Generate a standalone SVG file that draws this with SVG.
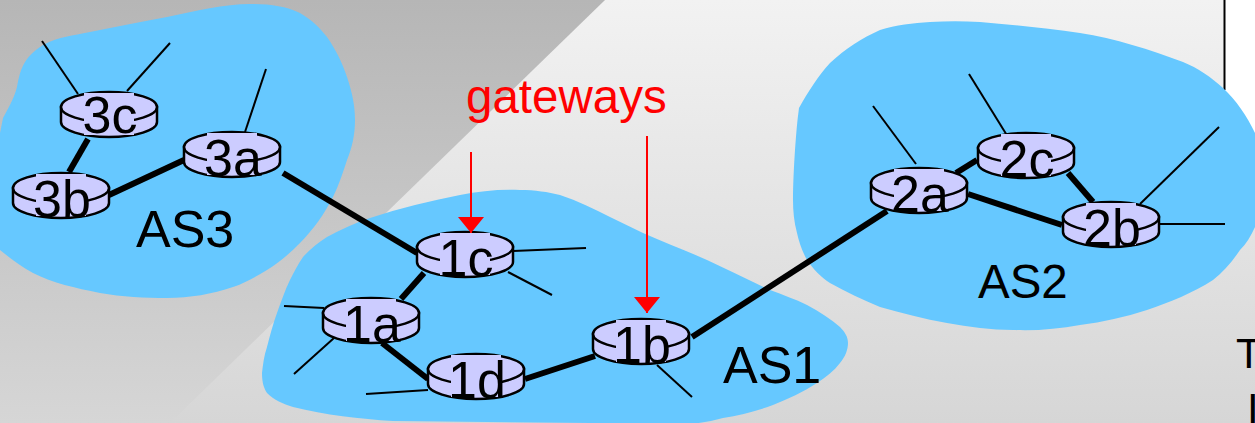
<svg xmlns="http://www.w3.org/2000/svg" width="1255" height="423" viewBox="0 0 1255 423">
<style>
text{font-family:"Liberation Sans",Arial,sans-serif;font-size:52px;fill:#000}
.as{fill:#66c8ff;stroke:none}
.thick{stroke:#000;stroke-width:6;fill:none}
.thin{stroke:#000;stroke-width:2;fill:none}
.red{stroke:#f00;stroke-width:2;fill:none}
.c{text-anchor:middle}
</style>
<defs>
<linearGradient id="bgL" x1="0" y1="0" x2="0" y2="1"><stop offset="0" stop-color="#f2f2f2"/><stop offset="1" stop-color="#d6d6d6"/></linearGradient>
<linearGradient id="bgD" x1="0" y1="0" x2="0" y2="1"><stop offset="0" stop-color="#b6b6b6"/><stop offset="1" stop-color="#d6d6d6"/></linearGradient>
<marker id="arr" markerUnits="userSpaceOnUse" markerWidth="16" markerHeight="26" refX="16" refY="13" orient="auto" viewBox="0 0 16 26"><path d="M0 0L16 13L0 26Z" fill="#f00"/></marker>
<g id="router">
<path d="M-48 0V15A48 15 0 0 0 48 15V0Z" fill="#ccccff" stroke="#000" stroke-width="2.500"/>
<ellipse cx="0" cy="0" rx="48" ry="15" fill="#ccccff" stroke="#000" stroke-width="2.500"/>
<rect x="-25" y="-14" width="50" height="42" fill="#ccccff"/>
</g>
</defs>
<g id="background">
<rect width="1255" height="423" fill="url(#bgL)"/>
<path d="M0 0H605L170 423H0Z" fill="url(#bgD)"/>
<path d="M1225 0H1255V140H1225Z" fill="#fff"/>
<path d="M1224.500 0V90" stroke="#000" stroke-width="2"/>
</g>
<g id="as-regions">
<path id="as3" class="as" d="M0 133L3 118C10 105 14 98 17 87C20 72 22 58 43 45C60 36 72 36 90 32C115 27 140 22 167 17C195 11 225 4 250 4C270 4 285 6 300 13C312 20 320 28 327 37C336 50 342 62 347 77C352 92 355 105 355 120C355 135 352 148 347 160C343 172 339 185 333 197C325 213 313 230 300 243C290 253 280 262 267 270C257 276 245 283 233 287C212 294 190 298 167 298C145 298 122 297 100 293C75 288 53 283 33 273C20 266 10 258 0 250Z"/>
<path id="as1" class="as" d="M262 373C263 364 264 356 267 347C270 335 273 324 277 313C281 302 285 290 290 280C294 272 298 264 303 257C310 249 318 243 327 237C340 230 355 223 370 218C400 208 430 201 460 195C480 191 500 189 520 190C535 190 548 192 560 195C578 201 594 209 610 217C621 222 632 228 643 233C665 243 685 250 707 260C728 270 749 280 770 290C783 295 795 299 807 305C820 312 831 319 840 327C845 332 848 337 848 343C848 350 845 357 840 363C834 371 826 377 817 383C803 392 788 399 773 405C757 411 740 415 723 418C712 421 701 423 690 424L393 421C360 419 325 415 293 407C283 404 274 400 267 393C263 387 262 380 262 373Z"/>
<path id="as2" class="as" d="M799 108C808 92 818 76 830 63C845 49 862 38 880 30C896 25 913 23 930 22C947 21 963 21 980 22C1013 25 1047 28 1080 33C1115 38 1150 50 1183 62C1198 68 1211 77 1223 88C1236 100 1247 116 1255 133L1262 140V220C1260 222 1257 224 1255 227C1251 236 1246 244 1240 250C1232 262 1223 272 1213 280C1193 293 1170 302 1147 310C1125 317 1103 322 1080 325C1058 329 1036 331 1013 330C991 330 969 327 947 323C924 319 902 313 880 307C863 300 846 292 830 283C821 277 813 269 807 260C802 251 799 242 797 233C794 222 793 211 793 200C793 185 794 165 795 150C796 136 797 122 799 108Z"/>
</g>
<g id="connectors">
<path class="thick" d="M88 139L69 172"/>
<path class="thick" d="M109 195L184 160"/>
<path class="thick" d="M283 173L417 253"/>
<path class="thick" d="M424 273L401 299"/>
<path class="thick" d="M382 343L428 379"/>
<path class="thick" d="M525 379L595 356"/>
<path class="thick" d="M692 337L887 211"/>
<path class="thick" d="M956 173L977 160"/>
<path class="thick" d="M968 194L1062 225"/>
<path class="thick" d="M1068 173L1093 202"/>
<path class="thin" d="M42 41L78 94"/>
<path class="thin" d="M170 43L127 91"/>
<path class="thin" d="M266 69L245 132"/>
<path class="thin" d="M513 251L586 248"/>
<path class="thin" d="M508 272L552 295"/>
<path class="thin" d="M284 306L324 308"/>
<path class="thin" d="M334 338L294 374"/>
<path class="thin" d="M366 394L428 390"/>
<path class="thin" d="M657 365L692 397"/>
<path class="thin" d="M873 106L916 164"/>
<path class="thin" d="M969 74L1008 137"/>
<path class="thin" d="M1219 127L1140 204"/>
<path class="thin" d="M1160 224H1225"/>
</g>
<g id="r3c"><use href="#router" x="109" y="107"/><text class="c" x="110" y="133">3c</text></g>
<g id="r3a"><use href="#router" x="232" y="147"/><text class="c" x="233" y="176">3a</text></g>
<g id="r3b"><use href="#router" x="61" y="188"/><text class="c" x="62" y="217">3b</text></g>
<g id="r1c"><use href="#router" x="465" y="247"/><text class="c" x="466" y="276">1c</text></g>
<g id="r1a"><use href="#router" x="371" y="313"/><text class="c" x="372" y="342">1a</text></g>
<g id="r1d"><use href="#router" x="476" y="369"/><text class="c" x="477" y="398">1d</text></g>
<g id="r1b"><use href="#router" x="641" y="334"/><text class="c" x="642" y="363">1b</text></g>
<g id="r2a"><use href="#router" x="919" y="183"/><text class="c" x="920" y="212">2a</text></g>
<g id="r2c"><use href="#router" x="1026" y="148"/><text class="c" x="1027" y="177">2c</text></g>
<g id="r2b"><use href="#router" x="1111" y="217"/><text class="c" x="1112" y="246">2b</text></g>
<g id="labels">
<text x="136" y="247">AS3</text>
<text x="723" y="383">AS1</text>
<text x="978" y="298" style="font-size:47.500px">AS2</text>
<text x="466" y="113" style="fill:#f00;font-size:47.500px">gateways</text>
<text x="1236" y="368" style="font-size:42px">T</text>
<text x="1247" y="423" style="font-size:42px">I</text>
</g>
<g id="gateway-arrows">
<path class="red" d="M471 152V233" marker-end="url(#arr)"/>
<path class="red" d="M647 136V313" marker-end="url(#arr)"/>
</g>
</svg>
